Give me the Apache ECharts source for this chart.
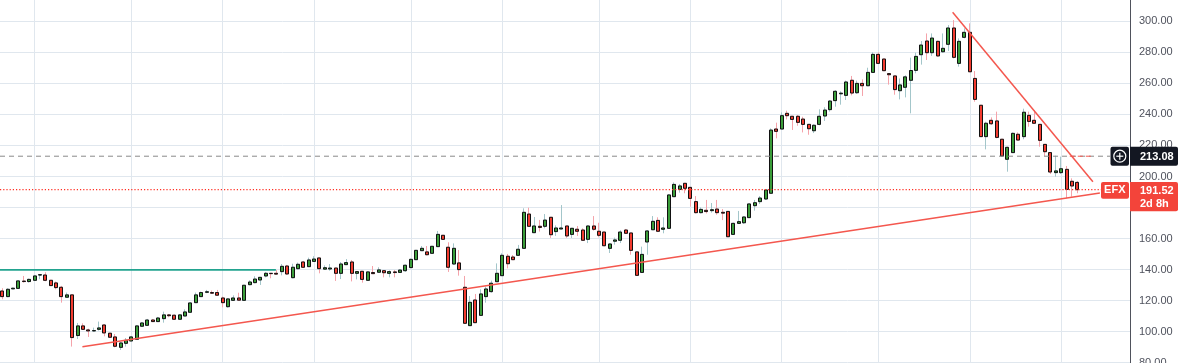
<!DOCTYPE html>
<html><head><meta charset="utf-8">
<script src="https://cdn.jsdelivr.net/npm/echarts@6/dist/echarts.min.js"></script>
<style>html,body{margin:0;padding:0;background:#fff;overflow:hidden}#c{width:1186px;height:363px}</style>
</head><body><div id="c"></div>
<script>
const opens = [
126.2,122.6,127.6,127.9,132.6,132.3,133.1,136.5,136.5,133.1,
131.4,128.6,122.2,123.7,97.5,103.7,101.1,100.5,101.5,104.3,
99.0,96.6,89.9,92.5,94.0,95.1,103.5,104.1,107.5,106.5,
108.4,110.8,110.6,108.0,110.1,112.5,118.7,122.6,125.4,125.2,
125.2,121.7,116.1,120.2,121.7,120.2,130.3,131.6,133.3,135.9,
137.6,137.6,138.7,142.3,134.8,140.6,144.9,141.9,145.3,147.5,
140.3,140.4,141.0,137.6,143.2,144.9,137.6,138.9,133.1,138.1,
138.3,139.3,137.6,138.5,138.2,139.3,141.3,146.4,152.2,151.4,
150.5,154.8,162.1,154.4,143.6,144.3,128.6,103.9,120.4,110.5,
122.6,125.8,132.2,136.1,148.6,148.1,149.2,153.7,175.8,163.8,
167.9,167.9,173.7,164.5,166.2,168.1,162.7,166.0,165.5,159.5,
168.1,164.7,164.2,153.7,158.3,158.9,165.5,163.6,151.4,138.2,
157.8,165.7,171.7,166.0,166.6,187.0,191.7,195.6,193.0,183.8,
176.7,178.2,178.0,179.0,176.9,177.5,162.7,169.8,170.2,173.5,
181.2,183.8,185.5,189.2,230.6,230.6,240.7,238.8,238.8,237.0,
233.6,229.5,233.6,239.0,243.1,248.9,253.3,252.3,262.0,254.0,
260.0,258.5,267.1,278.7,275.7,266.3,264.8,255.3,257.5,262.0,
268.4,278.5,287.3,279.8,287.1,280.4,285.2,295.7,272.9,289.7,
292.9,263.2,245.9,225.7,236.2,235.8,224.0,211.1,215.4,227.2,
225.7,239.4,236.2,233.6,220.7,215.4,202.5,202.5,204.6,196.9,
196.2];
const closes = [
122.6,127.3,128.0,132.7,132.3,133.7,135.9,136.7,133.1,129.7,
128.4,122.6,123.7,96.2,103.7,101.5,100.5,100.7,102.4,99.2,
96.4,90.6,92.7,94.4,96.6,103.7,105.6,107.5,106.5,108.8,
110.8,110.3,108.0,110.8,112.7,118.5,123.7,125.2,125.7,124.8,
123.5,118.7,121.1,121.7,120.3,129.9,132.0,133.9,135.0,137.6,
137.4,137.1,142.1,137.2,141.5,143.4,141.5,146.2,146.8,140.6,
141.2,141.0,137.6,143.6,144.5,137.6,138.7,133.7,138.5,137.4,
139.8,138.0,138.7,138.1,139.7,142.8,146.6,152.4,153.7,149.6,
155.0,162.7,159.5,141.5,153.7,140.0,105.4,118.9,105.8,124.3,
127.5,131.2,137.6,149.2,143.8,146.4,153.1,176.9,167.9,168.1,
167.2,171.9,162.5,166.8,166.8,161.7,166.6,164.7,158.9,168.1,
166.0,162.1,155.4,156.5,159.1,164.2,163.4,152.4,136.3,149.8,
164.9,171.1,164.7,166.8,188.1,194.9,193.9,192.4,185.9,176.7,
178.8,177.4,178.6,176.7,176.4,161.2,169.8,170.9,173.9,182.3,
183.1,186.1,191.3,229.9,229.1,239.2,239.2,236.8,234.9,233.6,
230.8,233.0,238.8,242.8,248.6,254.9,253.7,260.9,253.8,260.0,
258.5,267.1,278.7,272.9,268.2,265.6,256.0,259.0,264.2,268.3,
277.4,284.7,279.8,289.2,277.7,282.6,295.7,276.8,287.1,292.9,
267.5,249.7,225.7,234.3,234.0,225.2,213.2,218.8,227.8,223.5,
241.4,235.5,234.3,223.3,216.0,202.9,203.6,205.0,191.7,193.9,
191.52];
const lows = [
120.9,122.2,127.4,127.7,131.6,131.6,132.9,133.8,132.5,129.5,
127.3,118.7,122.2,90.4,95.3,101.5,96.6,100.0,100.7,97.0,
96.4,89.9,88.2,90.4,94.0,95.1,103.0,103.7,106.3,106.3,
105.8,109.3,107.6,108.0,110.1,112.5,118.5,122.6,124.8,124.3,
123.5,115.7,115.5,120.0,120.1,120.0,129.9,131.2,130.1,135.0,
134.4,137.0,136.3,136.5,134.4,140.2,141.0,141.9,144.9,137.6,
139.9,139.3,132.7,133.9,143.0,132.4,133.7,131.6,132.9,137.4,
137.8,135.0,135.0,135.0,138.0,138.5,140.8,146.2,152.0,149.2,
150.1,154.6,159.1,138.5,143.2,136.1,105.4,103.9,105.8,110.1,
118.7,125.1,132.0,136.1,140.8,146.2,148.8,153.7,167.9,163.8,
164.5,166.6,160.4,161.7,166.0,160.4,160.4,161.7,158.9,157.1,
165.1,160.8,155.0,150.7,156.1,157.1,163.0,149.6,136.3,138.2,
149.6,165.5,164.2,163.4,166.6,187.0,189.6,189.2,180.6,176.2,
176.2,176.2,176.7,175.4,171.9,161.2,162.7,169.4,169.4,173.5,
178.0,182.3,184.9,189.2,224.6,230.6,236.8,230.0,232.7,228.4,
226.9,228.0,233.0,235.8,241.8,245.0,246.3,249.3,252.3,253.2,
251.9,258.5,267.1,272.9,268.2,259.2,252.7,249.7,251.0,240.7,
266.5,272.1,275.1,277.7,277.2,279.8,280.9,276.1,270.8,289.0,
267.5,248.2,225.7,217.5,233.2,224.6,212.8,203.1,215.4,223.5,
224.0,232.1,234.3,219.2,213.2,201.6,199.9,201.6,185.9,187.0,
189.2];
const highs = [
128.0,128.0,128.3,133.0,135.9,134.2,136.5,136.7,138.3,133.3,
132.3,129.5,125.2,123.7,105.6,105.4,101.9,102.6,106.5,104.8,
99.0,98.5,93.2,95.9,97.2,104.1,106.0,108.2,108.2,109.5,
112.9,111.4,111.0,111.4,114.4,118.9,125.2,125.8,126.9,126.5,
126.9,122.6,121.5,123.4,125.1,130.0,133.1,135.7,135.2,138.5,
137.8,139.7,143.6,143.0,143.8,144.5,145.6,147.7,148.6,147.5,
142.7,143.6,141.1,144.9,146.8,146.2,138.7,138.9,138.9,142.3,
141.5,139.3,139.5,139.7,140.2,143.2,147.1,152.6,155.2,155.2,
155.2,164.9,162.1,157.6,156.9,152.6,135.9,123.0,124.3,127.3,
129.0,132.9,144.0,150.5,150.1,149.4,155.9,179.5,179.9,173.9,
172.0,175.8,173.7,168.5,181.6,168.1,166.6,168.1,166.6,168.5,
174.5,170.2,164.2,156.9,160.6,165.3,166.2,163.6,151.4,154.8,
165.5,174.5,173.7,173.7,188.7,196.2,195.2,195.6,193.0,187.4,
180.1,184.9,182.9,184.9,179.0,177.5,170.2,177.8,174.3,182.7,
184.9,187.4,191.7,231.0,234.7,241.3,242.4,238.8,239.6,238.5,
233.6,233.6,243.3,244.6,249.3,255.7,254.9,261.8,264.8,261.8,
262.6,270.1,280.0,280.0,275.7,266.3,264.8,263.2,265.2,276.6,
279.8,287.3,292.2,292.2,287.5,292.2,297.6,300.8,289.0,295.5,
298.7,268.0,245.9,235.3,238.1,241.8,224.0,219.2,228.4,228.4,
243.7,241.8,242.8,233.6,220.7,215.4,213.4,212.8,206.8,198.8,
197.1];

const yMin = 80, yMax = 320, yStep = 20;
const vGridIdx = [6, 24, 41, 58, 76, 93, 111, 128, 145, 163, 180, 197];
const symbolName = 'EFX';
const lastPrice = 191.52;
const countdown = '2d 8h';
const alertPrice = 213.08;
const resistLevel = 139.8;
const resistSpan = [-0.43, 50.9];
const alertSpan = [-0.43, 206.1];
const alertRedSpan = [198.6, 202.9];
const lastSpan = [-0.43, 204.4];
const trendUp = [[14.9, 90.3], [204.2, 189.4]];
const trendDown = [[176.8, 305.8], [202.9, 196.6]];

const UP = '#3a9d3a', DOWN = '#f23b2f', WICK_UP = '#a3c6ca', WICK_DOWN = '#f5a3aa';
const RED = '#f3443a', DARK = '#131722';

const wickData = opens.map((o, i) => {
  const c = closes[i];
  return [i, o, c, Math.min(lows[i], o, c), Math.max(highs[i], o, c)];
});
const bodyData = opens.map((o, i) => {
  const c = closes[i];
  return [i, o, c, Math.min(o, c), Math.max(o, c)];
});
const seg = (span, v) => [[span[0], v], [span[1], v]];
const lineSeries = (data, color, width, type, z) => ({
  type: 'line', data, showSymbol: false, symbol: 'none', silent: true, z,
  lineStyle: { color, width, type }, animation: false
});

const chart = echarts.init(document.getElementById('c'), null, { renderer: 'canvas' });
chart.setOption({
  animation: false,
  backgroundColor: '#ffffff',
  grid: { left: 0, right: 56, top: -9.7, bottom: 0.3, containLabel: false, outerBoundsMode: 'none' },
  xAxis: { type: 'value', min: -0.43, max: 209.8, show: false },
  yAxis: {
    type: 'value', position: 'right', min: yMin, max: yMax, interval: yStep,
    axisLine: { show: true, onZero: false, lineStyle: { color: '#4f525c', width: 1 } },
    axisTick: { show: false },
    axisLabel: { margin: 9, fontSize: 11, color: '#50535e', fontFamily: 'Liberation Sans, Arial, sans-serif',
      formatter: v => v.toFixed(2) },
    splitLine: { show: true, lineStyle: { color: '#e0e7ee', width: 1 } }
  },
  series: [
    {
      type: 'candlestick', data: wickData, barWidth: 3.5, z: 3, silent: true,
      encode: { x: 0, y: [1, 2, 3, 4] },
      itemStyle: { color: 'rgba(0,0,0,0)', color0: 'rgba(0,0,0,0)', borderColor: WICK_UP, borderColor0: WICK_DOWN, borderWidth: 1 },
      markLine: {
        silent: true, symbol: ['none', 'none'], z: 1, animation: false,
        label: { show: false },
        lineStyle: { color: '#e0e7ee', type: 'solid', width: 1 },
        emphasis: { disabled: true },
        data: vGridIdx.map(v => ({ xAxis: v }))
      }
    },
    {
      type: 'candlestick', data: bodyData, barWidth: 3.5, z: 4, silent: true,
      encode: { x: 0, y: [1, 2, 3, 4] },
      itemStyle: { color: UP, color0: DOWN, borderColor: '#111111', borderColor0: '#111111', borderWidth: 1 }
    },
    lineSeries(seg(resistSpan, resistLevel), '#22a38f', 1.6, 'solid', 5),
    lineSeries(seg(alertSpan, alertPrice), '#8a8a8a', 1, [5, 4], 5),
    lineSeries(seg(alertRedSpan, alertPrice), '#f4574e', 1, [5, 3], 6),
    lineSeries(seg(lastSpan, lastPrice), '#ff2e22', 1.2, [1.2, 2], 5),
    lineSeries(trendUp, '#f4574e', 1.5, 'solid', 6),
    lineSeries(trendDown, '#f4574e', 1.5, 'solid', 6)
  ]
});

const yA = chart.convertToPixel({ yAxisIndex: 0 }, alertPrice);
const yL = chart.convertToPixel({ yAxisIndex: 0 }, lastPrice);
const font = 'bold 11px "Liberation Sans", Arial, sans-serif';
chart.setOption({
  graphic: [
    { type: 'rect', z: 100, shape: { x: 1110.5, y: yA - 9.5, width: 18.5, height: 19, r: 2 }, style: { fill: DARK } },
    { type: 'circle', z: 101, shape: { cx: 1119.8, cy: yA, r: 6 }, style: { fill: 'none', stroke: '#ffffff', lineWidth: 1.2 } },
    { type: 'line', z: 101, shape: { x1: 1116.3, y1: yA, x2: 1123.3, y2: yA }, style: { stroke: '#ffffff', lineWidth: 1.2 } },
    { type: 'line', z: 101, shape: { x1: 1119.8, y1: yA - 3.5, x2: 1119.8, y2: yA + 3.5 }, style: { stroke: '#ffffff', lineWidth: 1.2 } },
    { type: 'rect', z: 100, shape: { x: 1130, y: yA - 9.5, width: 48, height: 19, r: [0, 2, 2, 0] }, style: { fill: DARK } },
    { type: 'text', z: 101, x: 1140, y: yA + 0.5, style: { text: alertPrice.toFixed(2), font, fill: '#ffffff', verticalAlign: 'middle', align: 'left' } },
    { type: 'rect', z: 100, shape: { x: 1101, y: yL - 7.7, width: 28, height: 16.7, r: 2 }, style: { fill: RED } },
    { type: 'text', z: 101, x: 1114.8, y: yL + 0.7, style: { text: symbolName, font, fill: '#ffffff', verticalAlign: 'middle', align: 'center' } },
    { type: 'rect', z: 100, shape: { x: 1130, y: yL - 7.7, width: 48, height: 29.3, r: [0, 2, 2, 0] }, style: { fill: RED } },
    { type: 'text', z: 101, x: 1140, y: yL + 1, style: { text: lastPrice.toFixed(2), font, fill: '#ffffff', verticalAlign: 'middle', align: 'left' } },
    { type: 'text', z: 101, x: 1140, y: yL + 14, style: { text: countdown, font, fill: '#ffffff', verticalAlign: 'middle', align: 'left' } }
  ]
});
</script>
</body></html>
